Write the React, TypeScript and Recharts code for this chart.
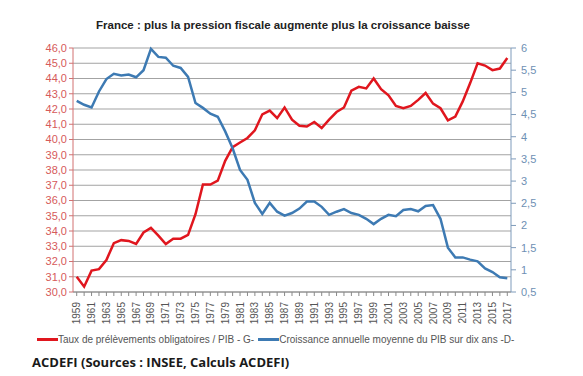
import React from "react";
import { LineChart, Line, XAxis, YAxis, CartesianGrid } from "recharts";

// années (axe X)
const years = [
  1959, 1960, 1961, 1962, 1963, 1964, 1965, 1966, 1967, 1968,
  1969, 1970, 1971, 1972, 1973, 1974, 1975, 1976, 1977, 1978,
  1979, 1980, 1981, 1982, 1983, 1984, 1985, 1986, 1987, 1988,
  1989, 1990, 1991, 1992, 1993, 1994, 1995, 1996, 1997, 1998,
  1999, 2000, 2001, 2002, 2003, 2004, 2005, 2006, 2007, 2008,
  2009, 2010, 2011, 2012, 2013, 2014, 2015, 2016, 2017,
];

// Taux de prélèvements obligatoires / PIB (axe gauche)
const taux = [
  31.0, 30.35, 31.4, 31.5, 32.1, 33.2, 33.4, 33.35, 33.15, 33.9,
  34.2, 33.7, 33.15, 33.5, 33.5, 33.75, 35.1, 37.05, 37.05, 37.3,
  38.6, 39.5, 39.8, 40.1, 40.6, 41.65, 41.9, 41.4, 42.1, 41.3,
  40.9, 40.85, 41.15, 40.75, 41.3, 41.8, 42.1, 43.2, 43.45, 43.35,
  44.0, 43.3, 42.9, 42.2, 42.05, 42.2, 42.6, 43.05, 42.35, 42.05,
  41.25, 41.5, 42.5, 43.7, 45.0, 44.85, 44.55, 44.65, 45.35,
];

// Croissance annuelle moyenne du PIB sur dix ans (axe droit)
const croissance = [
  4.81, 4.72, 4.66, 5.02, 5.3, 5.42, 5.38, 5.4, 5.34, 5.5,
  5.98, 5.8, 5.78, 5.6, 5.55, 5.35, 4.76, 4.65, 4.52, 4.45,
  4.12, 3.74, 3.25, 3.03, 2.51, 2.26, 2.51, 2.31, 2.22, 2.28,
  2.38, 2.54, 2.54, 2.42, 2.24, 2.31, 2.37, 2.28, 2.24, 2.15,
  2.03, 2.15, 2.24, 2.21, 2.35, 2.37, 2.32, 2.44, 2.46, 2.15,
  1.5, 1.28, 1.28, 1.23, 1.19, 1.03, 0.95, 0.83, 0.81,
];

const leftTicks = [30, 31, 32, 33, 34, 35, 36, 37, 38, 39, 40, 41, 42, 43, 44, 45, 46];
const rightTicks = [0.5, 1, 1.5, 2, 2.5, 3, 3.5, 4, 4.5, 5, 5.5, 6];

const data = years.map((y, i) => ({ year: y, taux: taux[i], croissance: croissance[i] }));

const RED = "#e0161e";
const BLUE = "#3d7ab3";
const FONT = "'Liberation Sans', Arial, sans-serif";

const YearTick = (props: any) => {
  const { x, y, payload, index } = props;
  if (index % 2 !== 0) return null;
  return (
    <text
      x={0}
      y={0}
      transform={`translate(${x + 3.5},${y + 4}) rotate(-90)`}
      textAnchor="end"
      fontSize={10}
      fill="#555"
      fontFamily={FONT}
    >
      {payload.value}
    </text>
  );
};

export default function App() {
  return (
    <div style={{ position: "absolute", left: 0, top: 0, width: 583, height: 376, background: "#fff", fontFamily: FONT }}>
      <div
        style={{
          position: "absolute",
          left: 0,
          width: 566,
          top: 19,
          textAlign: "center",
          fontSize: 11.5,
          fontWeight: "bold",
          color: "#222",
        }}
      >
        France : plus la pression fiscale augmente plus la croissance baisse
      </div>
      <LineChart width={583} height={376} data={data} margin={{ top: 48, right: 0, bottom: 44, left: 0 }}>
        <CartesianGrid yAxisId="left" vertical={false} stroke="#a3a3a3" strokeWidth={1} />
        <XAxis
          dataKey="year"
          scale="band"
          interval={0}
          height={40}
          tick={<YearTick />}
          tickSize={4}
          axisLine={{ stroke: "#8a8a8a" }}
          tickLine={{ stroke: "#8a8a8a" }}
        />
        <YAxis
          yAxisId="left"
          domain={[30, 46]}
          ticks={leftTicks}
          interval={0}
          width={73}
          tickSize={4}
          tickMargin={2}
          tickFormatter={(v: number) => v.toFixed(1).replace(".", ",")}
          tick={{ fontSize: 11, fill: "#d65a5a", fontFamily: FONT }}
          axisLine={{ stroke: "#d27070" }}
          tickLine={{ stroke: "#d27070" }}
        />
        <YAxis
          yAxisId="right"
          orientation="right"
          domain={[0.5, 6]}
          ticks={rightTicks}
          interval={0}
          width={72}
          tickSize={5}
          tickMargin={5}
          tickFormatter={(v: number) => String(v).replace(".", ",")}
          tick={{ fontSize: 11, fill: "#6e90b4", fontFamily: FONT }}
          axisLine={{ stroke: "#7f9bbb" }}
          tickLine={{ stroke: "#7f9bbb" }}
        />
        <Line
          yAxisId="left"
          type="linear"
          dataKey="taux"
          stroke={RED}
          strokeWidth={2.5}
          dot={false}
          isAnimationActive={false}
        />
        <Line
          yAxisId="right"
          type="linear"
          dataKey="croissance"
          stroke={BLUE}
          strokeWidth={2.5}
          dot={false}
          isAnimationActive={false}
        />
      </LineChart>
      <div style={{ position: "absolute", left: 37, top: 334, fontSize: 10, color: "#555", whiteSpace: "nowrap", display: "flex", alignItems: "center" }}>
        <span style={{ display: "inline-block", width: 21, height: 3, background: RED }} />
        <span>Taux de prélèvements obligatoires / PIB - G-</span>
        <span style={{ display: "inline-block", width: 21, height: 3, background: BLUE, marginLeft: 4 }} />
        <span>Croissance annuelle moyenne du PIB sur dix ans -D-</span>
      </div>
      <div
        style={{
          position: "absolute",
          left: 32,
          top: 353,
          fontSize: 13,
          fontWeight: "bold",
          color: "#1a1a1a",
          fontFamily: "'Open Sans', 'Noto Sans', sans-serif",
          whiteSpace: "nowrap",
        }}
      >
        ACDEFI (Sources : INSEE, Calculs ACDEFI)
      </div>
    </div>
  );
}
